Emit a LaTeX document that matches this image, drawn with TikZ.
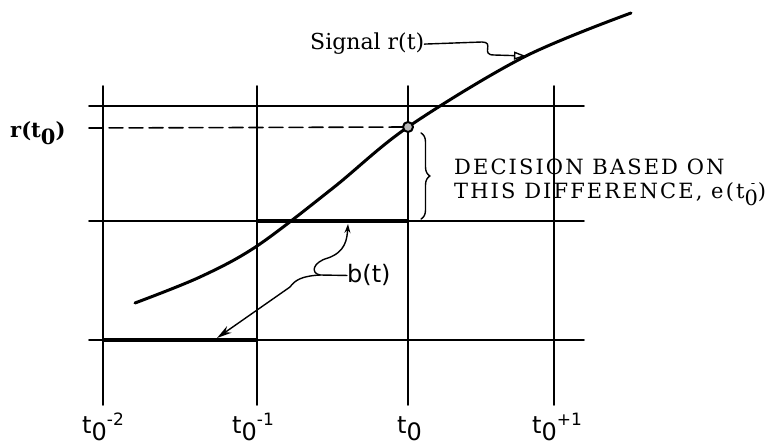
\documentclass[tikz,border=0pt]{standalone}
\usepackage{fontspec}
\setmainfont{DejaVu Serif}
\newfontfamily\labelfont{DejaVu Sans}
\usetikzlibrary{arrows.meta,decorations.pathreplacing,calc}

% t_0 style labels under the time axis
\newcommand{\tzero}[1]{t\raisebox{-0.32em}{0}\raisebox{0.3em}{\fontsize{17}{17}\selectfont #1}}

\begin{document}
\begin{tikzpicture}[
		x=1pt,
		y=-1pt,
		line cap=round,
		line join=round,
		gridline/.style={draw=black, line width=1.6pt},
		levelbar/.style={draw=black, line width=4.5pt, line cap=butt},
		signal/.style={draw=black, line width=3pt},
		leader/.style={draw=black, line width=1.4pt},
		tlabel/.style={font=\labelfont\fontsize{24}{26}\selectfont, anchor=base west, inner sep=0pt},
		serlabel/.style={font=\fontsize{22}{24}\selectfont, anchor=base west, inner sep=0pt}
		]
		
		\useasboundingbox (0,0) rectangle (784,446);
		
		% key points
		\coordinate (D)  at (408,127);
		\coordinate (Sa) at (526,56);
		\coordinate (Bu) at (348,224);
		\coordinate (Bd) at (217,338);
		\coordinate (K)  at (320,275);
		
		% grid
		\foreach \xx in {103,257,408,554}
			\draw[gridline] (\xx,86) -- (\xx,405);
		\foreach \yy in {106,221,340}
			\draw[gridline] (89,\yy) -- (584,\yy);
		
		% r(t_0) level
		\draw[gridline, dash pattern=on 14pt off 6pt] (89,128) -- (D);
		
		% b(t) levels
		\draw[levelbar] (103,340) -- (257,340);
		\draw[levelbar] (257,221) -- (408,221);
		
		% signal
		\draw[signal] plot[smooth, tension=0.55] coordinates {
			(135,303) (200,277) (257,246) (333,188) (408,127)
			(524,57) (631,13)};
		\filldraw[fill=gray!55, draw=black, line width=2pt] (D) circle (5);
		
		% labels
		\node[serlabel, font=\bfseries\fontsize{21}{24}\selectfont] (rt) at (10,138)
			{r(t\raisebox{-0.3em}{0})};
		\node[serlabel, font=\fontsize{22}{24}\selectfont] (sig) at (310,50) {Signal r(t)};
		\node[tlabel] (bt) at (347,283) {b(t)};
		
		\node[tlabel] (t2) at (82,433)  {\tzero{-2}};
		\node[tlabel] (t1) at (232,433) {\tzero{-1}};
		\node[tlabel] (t0) at (397,433) {\tzero{}};
		\node[tlabel] (tp) at (532,433) {\tzero{+1}};
		
		\node[serlabel, align=left, anchor=north west,
			font=\addfontfeature{LetterSpace=10}\fontsize{21}{24}\selectfont] (dec) at (454,159)
			{DECISION BASED ON\\THIS DIFFERENCE, e(t\raisebox{-0.32em}{0}\llap{\raisebox{0.55em}{\fontsize{13}{13}\selectfont -}\kern0.12em})};
		
		% brace
		\draw[leader, decorate, decoration={brace, amplitude=9pt}] (421,133) -- (421,219);
		
		% leaders
		\draw[leader, -{Triangle[open, length=12pt, width=8pt]}]
			(sig.east) -- (482,42) .. controls (495,42) and (480,55) .. (494,55) -- (Sa);
		\draw[leader] (bt.west) -- (K);
		\draw[leader, -{Stealth[length=9pt, width=6pt]}]
			(K) .. controls (310,273) and (313,262) .. (328,258)
			.. controls (345,252) and (347,240) .. (Bu);
		\draw[leader, -{Stealth[length=15pt, width=8pt]}]
			(K) .. controls (302,276) and (295,280) .. (290,287) -- (Bd);
\end{tikzpicture}
\end{document}
